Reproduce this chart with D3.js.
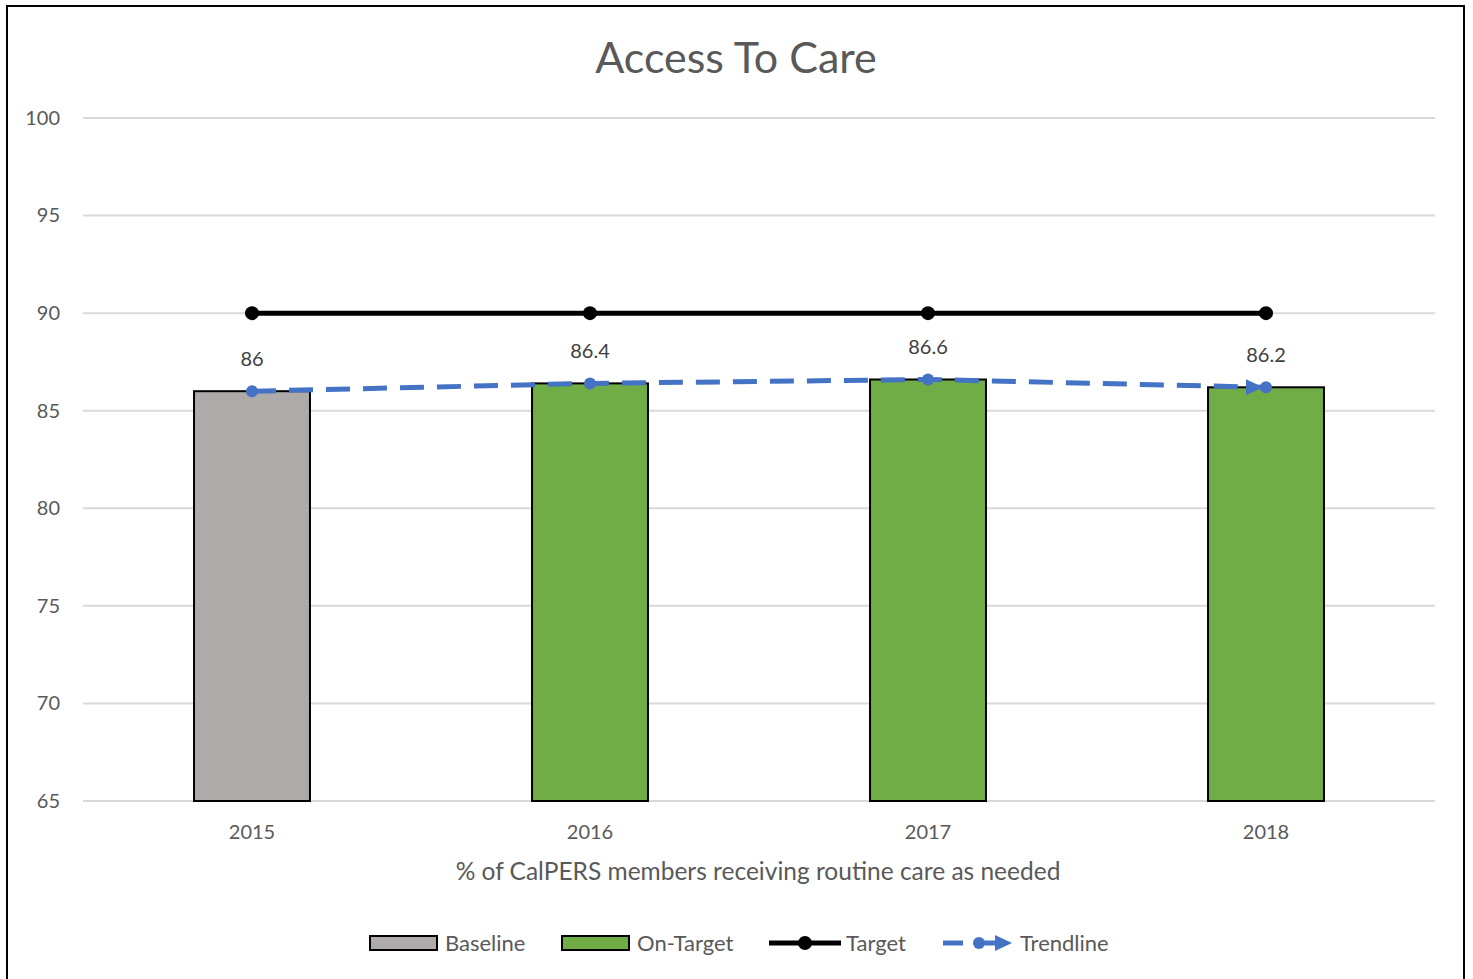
<!DOCTYPE html>
<html>
<head>
<meta charset="utf-8">
<script src="https://cdn.jsdelivr.net/npm/d3@7"></script>
<style>
  html, body { margin: 0; padding: 0; background: #fff; }
  svg { display: block; }
  text { font-family: Lato, "Open Sans", sans-serif; }
</style>
</head>
<body>
<script>
// Chart data
const years = ["2015", "2016", "2017", "2018"];
const scores = [86, 86.4, 86.6, 86.2];
const status = ["Baseline", "On-Target", "On-Target", "On-Target"];
const target = [90, 90, 90, 90];
const trend = [86, 86.4, 86.6, 86.2];
const yTicks = [65, 70, 75, 80, 85, 90, 95, 100];
const legendItems = ["Baseline", "On-Target", "Target", "Trendline"];

const W = 1473, H = 979;
const colors = { "Baseline": "#AEAAAA", "On-Target": "#70AD47" };
const blue = "#4472C4";

const svg = d3.select("body").append("svg").attr("width", W).attr("height", H);

// Outer chart frame
svg.append("rect").attr("x", 7).attr("y", 6).attr("width", 1457).attr("height", 990)
  .attr("fill", "#fff").attr("stroke", "#000").attr("stroke-width", 2);

const plot = { left: 83, right: 1435, top: 118, bottom: 801 };

const x = d3.scaleBand().domain(years).range([plot.left, plot.right])
  .paddingInner(0.657).paddingOuter(0.3285);
const y = d3.scaleLinear().domain([65, 100]).range([plot.bottom, plot.top]);

// Title
svg.append("text").attr("x", 736).attr("y", 73).attr("text-anchor", "middle")
  .attr("font-size", 43).attr("fill", "#595959").text("Access To Care");

// Gridlines
svg.append("g").selectAll("line").data(yTicks).join("line")
  .attr("x1", plot.left).attr("x2", plot.right)
  .attr("y1", d => y(d)).attr("y2", d => y(d))
  .attr("stroke", "#d9d9d9").attr("stroke-width", 2);

// Y axis labels
const yAxis = d3.axisLeft(y).tickValues(yTicks).tickSize(0).tickPadding(0);
const yg = svg.append("g").attr("transform", `translate(60,0)`).call(yAxis);
yg.select(".domain").remove();
yg.selectAll("text").attr("font-size", 20).attr("fill", "#595959")
  .attr("font-family", "Lato, 'Open Sans', sans-serif");

// X axis labels
const xAxis = d3.axisBottom(x).tickSize(0).tickPadding(0);
const xg = svg.append("g").attr("transform", `translate(0,${plot.bottom + 24})`).call(xAxis);
xg.select(".domain").remove();
xg.selectAll("text").attr("font-size", 20).attr("fill", "#595959")
  .attr("font-family", "Lato, 'Open Sans', sans-serif");

// Bars
svg.append("g").selectAll("rect").data(years).join("rect")
  .attr("x", d => x(d)).attr("width", x.bandwidth())
  .attr("y", (d, i) => y(scores[i])).attr("height", (d, i) => y(65) - y(scores[i]))
  .attr("fill", (d, i) => colors[status[i]])
  .attr("stroke", "#000").attr("stroke-width", 2);

const cx = d => x(d) + x.bandwidth() / 2;

// Target line
svg.append("path")
  .attr("d", d3.line().x((d, i) => cx(years[i])).y(d => y(d))(target))
  .attr("fill", "none").attr("stroke", "#000").attr("stroke-width", 5);
svg.append("g").selectAll("circle").data(target).join("circle")
  .attr("cx", (d, i) => cx(years[i])).attr("cy", d => y(d)).attr("r", 7).attr("fill", "#000");

// Trendline
svg.append("path")
  .attr("d", d3.line().x((d, i) => cx(years[i])).y(d => y(d))(trend))
  .attr("fill", "none").attr("stroke", blue).attr("stroke-width", 5)
  .attr("stroke-dasharray", "24,13");
svg.append("g").selectAll("circle").data(trend).join("circle")
  .attr("cx", (d, i) => cx(years[i])).attr("cy", d => y(d)).attr("r", 6).attr("fill", blue);
// Arrow head at the end of the trendline
{
  const n = trend.length - 1;
  const ex = cx(years[n]), ey = y(trend[n]);
  svg.append("path")
    .attr("d", `M${ex - 20},${ey - 8} L${ex - 3},${ey} L${ex - 20},${ey + 8} Z`)
    .attr("fill", blue);
}

// Data labels
svg.append("g").selectAll("text").data(scores).join("text")
  .attr("x", (d, i) => cx(years[i])).attr("y", d => y(d) - 25)
  .attr("text-anchor", "middle").attr("font-size", 20).attr("fill", "#404040")
  .text(d => d);

// Axis title
svg.append("text").attr("x", 758).attr("y", 880).attr("text-anchor", "middle")
  .attr("font-size", 24.5).attr("fill", "#595959")
  .text("% of CalPERS members receiving routine care as needed");

// Legend
const legY = 943;
const lg = svg.append("g");
const legPos = [370, 562, 769, 943];
const fs = 22;
legendItems.forEach((name, i) => {
  const lx = legPos[i];
  if (i < 2) {
    lg.append("rect").attr("x", lx).attr("y", legY - 7).attr("width", 67).attr("height", 14)
      .attr("fill", colors[name]).attr("stroke", "#000").attr("stroke-width", 2);
    lg.append("text").attr("x", lx + 75).attr("y", legY + 8).attr("font-size", fs)
      .attr("fill", "#595959").text(name);
  } else if (i === 2) {
    lg.append("line").attr("x1", lx).attr("x2", lx + 72).attr("y1", legY).attr("y2", legY)
      .attr("stroke", "#000").attr("stroke-width", 5);
    lg.append("circle").attr("cx", lx + 36).attr("cy", legY).attr("r", 7).attr("fill", "#000");
    lg.append("text").attr("x", lx + 77).attr("y", legY + 8).attr("font-size", fs)
      .attr("fill", "#595959").text(name);
  } else {
    lg.append("line").attr("x1", lx).attr("x2", lx + 20).attr("y1", legY).attr("y2", legY)
      .attr("stroke", blue).attr("stroke-width", 5);
    lg.append("line").attr("x1", lx + 34).attr("x2", lx + 55).attr("y1", legY).attr("y2", legY)
      .attr("stroke", blue).attr("stroke-width", 5);
    lg.append("circle").attr("cx", lx + 36).attr("cy", legY).attr("r", 6).attr("fill", blue);
    lg.append("path").attr("d", `M${lx + 52},${legY - 8} L${lx + 69},${legY} L${lx + 52},${legY + 8} Z`)
      .attr("fill", blue);
    lg.append("text").attr("x", lx + 77).attr("y", legY + 8).attr("font-size", fs)
      .attr("fill", "#595959").text(name);
  }
});
</script>
</body>
</html>
